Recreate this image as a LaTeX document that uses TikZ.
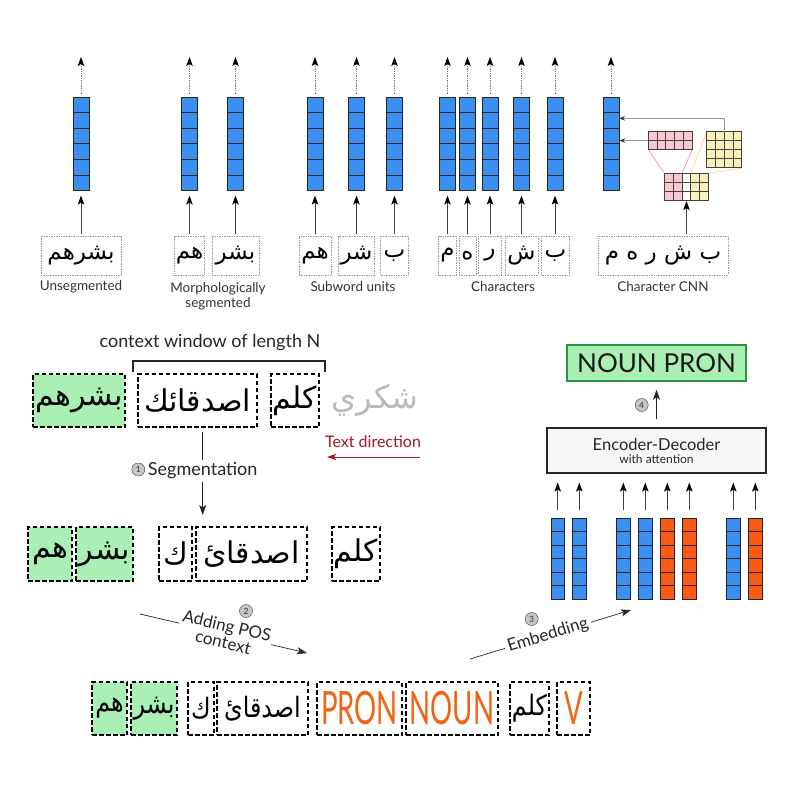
\documentclass[tikz,border=0pt]{standalone}
\usepackage{fontspec}
\setmainfont{Lato}
\newfontfamily\arabicfont[Script=Arabic]{DejaVu Sans}
\newfontfamily\arabiccond[Script=Arabic,FakeStretch=0.85]{DejaVu Sans}
\newfontfamily\condfont[FakeStretch=0.6]{Lato}
\TeXXeTstate=1
\usetikzlibrary{arrows.meta,calc}
\newcommand\arb[1]{{\arabicfont\beginR #1\endR}}
\newcommand\arbc[1]{{\arabiccond\beginR #1\endR}}
\newcommand\fsz[1]{\fontsize{#1}{#1}\selectfont}
\definecolor{vblue}{RGB}{59,143,240}
\definecolor{vorange}{RGB}{250,90,20}
\definecolor{torange}{RGB}{240,100,20}
\definecolor{lgreen}{RGB}{170,240,180}
\definecolor{dgreen}{RGB}{40,150,60}
\definecolor{dred}{RGB}{160,25,40}
\definecolor{pinkc}{RGB}{248,200,208}
\definecolor{yellc}{RGB}{250,240,185}
\definecolor{pinkl}{RGB}{232,140,150}
\definecolor{yelll}{RGB}{235,220,120}
\newcommand\mkvec[6]{%
  \node[vecbox, fill=#6, minimum width=#4pt, minimum height=#5pt, anchor=north] (#1) at (#2,#3) {};
  \foreach \k in {1,...,5}
    \draw[vecline] ($(#1.north west)!\k/6!(#1.south west)$) -- ($(#1.north east)!\k/6!(#1.south east)$);
}
\newcommand\cells[7]{%
  \foreach \i in {1,...,#3} \foreach \j in {1,...,#4}
    \draw[cellline, fill=#7] ({#1+(\i-1)*#5},{#2+(\j-1)*#6}) rectangle ++(#5,#6);
}
\tikzset{
  vecbox/.style={draw=black!85, line width=0.6pt, inner sep=0pt},
  vecline/.style={draw=black!85, line width=0.6pt},
  cellline/.style={draw=black!75, line width=0.5pt},
  tip/.style={-{Stealth[length=9pt,width=6.5pt,inset=2pt,color=black]}},
  toparrow/.style={tip, densely dotted, draw=gray, line width=0.7pt, shorten <=3pt},
  uparrow/.style={tip, draw=gray!50!black, line width=0.7pt},
  dotbox/.style={draw=gray!80, densely dotted, line width=0.7pt, inner sep=0pt, minimum height=39pt},
  dashbox/.style={draw=black, dash pattern=on 4.5pt off 2.5pt, line width=1.3pt, inner sep=0pt},
  toplabel/.style={font=\fsz{13.5}, text=black!80, align=center},
  circnum/.style={circle, draw=gray!50!black, fill=gray!45, inner sep=0pt, minimum size=13pt, font=\fsz{8.5}, text=black!80},
  grayarrow/.style={-{Stealth[length=6pt,width=4.5pt,color=black!80]}, draw=gray!80, line width=0.9pt},
  bigtip/.style={-{Stealth[length=10pt,width=7pt,inset=2.5pt]}},
}
\begin{document}
\begin{tikzpicture}[x=1pt,y=-1pt]
\useasboundingbox[fill=white] (0,0) rectangle (800,802);

% ---------------- top section: vectors ----------------
\foreach \n/\x in {uA/81, mA/189.5, mB/235.5, sA/315, sB/356.5, sC/394.5, cA/447.5, cB/467.5, cC/490, cD/521.5, cE/555, nA/611}{
  \mkvec{\n}{\x}{97}{16}{93}{vblue}
}
% boxes
\node[dotbox, minimum width=80pt] (bU) at (81,255.5) {\fsz{23}\arb{بشرهم}};
\node[dotbox, minimum width=30pt] (bMA) at (189.5,255.5) {\fsz{23}\arb{هم}};
\node[dotbox, minimum width=47pt] (bMB) at (235.5,255.5) {\fsz{23}\arb{بشر}};
\node[dotbox, minimum width=32pt] (bSA) at (315,255.5) {\fsz{23}\arb{هم}};
\node[dotbox, minimum width=36pt] (bSB) at (356.5,255.5) {\fsz{23}\arb{شر}};
\node[dotbox, minimum width=28pt] (bSC) at (394.5,255.5) {\fsz{23}\arb{ب}};
\node[dotbox, minimum width=18pt] (bCA) at (447.5,255.5) {\fsz{23}\arb{م}};
\node[dotbox, minimum width=17pt] (bCB) at (467.5,255.5) {\fsz{23}\arb{ه}};
\node[dotbox, minimum width=23pt] (bCC) at (490,255.5) {\fsz{23}\arb{ر}};
\node[dotbox, minimum width=33pt] (bCD) at (521.5,255.5) {\fsz{23}\arb{ش}};
\node[dotbox, minimum width=28pt] (bCE) at (555.5,255.5) {\fsz{23}\arb{ب}};
\node[dotbox, minimum width=130pt] (bN) at (663,255.5) {\fsz{23}\arb{ب ش ر ه م}};

\foreach \v/\b in {uA/bU, mA/bMA, mB/bMB, sA/bSA, sB/bSB, sC/bSC, cA/bCA, cB/bCB, cC/bCC, cD/bCD, cE/bCE}{
  \draw[uparrow, shorten <=2pt, shorten >=5pt] (\b.north -| \v.south) -- (\v.south);
}
\foreach \v in {uA, mA, mB, sA, sB, sC, cA, cB, cC, cD, cE, nA}{
  \draw[toparrow] (\v.north) -- ++(0,-40);
}

% labels
\node[toplabel] (lU) at (81,287) {Unsegmented};
\node[toplabel, anchor=north] (lM) at (218,279.5) {Morphologically\\[1pt]segmented};
\node[toplabel] (lS) at (353,287) {Subword units};
\node[toplabel] (lC) at (503,287) {Characters};
\node[toplabel] (lN) at (663,287) {Character CNN};

% character CNN
\node[inner sep=0pt, minimum width=44pt, minimum height=27.4pt, anchor=north west] (mat) at (664.3,173.3) {};
\node[inner sep=0pt, minimum width=43.5pt, minimum height=17.3pt, anchor=north west] (pinkf) at (648.3,131.7) {};
\node[inner sep=0pt, minimum width=35pt, minimum height=36pt, anchor=north west] (yelf) at (706.7,131.7) {};
\draw[pinkl, line width=0.6pt] (pinkf.south west) -- (mat.north west);
\draw[pinkl, line width=0.6pt] (pinkf.south east) -- ($(mat.north west)+(17.6,0)$);
\draw[yelll, line width=0.6pt] (yelf.north west) -- ($(mat.north west)+(26.4,0)$);
\draw[yelll, line width=0.6pt] (yelf.south east) -- (mat.north east);
\cells{648.3}{131.7}{5}{2}{8.7}{8.65}{pinkc}
\cells{706.7}{131.7}{4}{4}{8.75}{9}{yellc}
\cells{664.3}{173.3}{2}{3}{8.8}{9.13}{pinkc}
\cells{681.9}{173.3}{1}{3}{8.8}{9.13}{white}
\cells{690.7}{173.3}{2}{3}{8.8}{9.13}{yellc}
\draw[uparrow, shorten <=2pt] (bN.north -| mat.south) -- (mat.south);
\draw[grayarrow] (pinkf.west) -- (pinkf.west -| nA.east);
\coordinate (ytap) at (619,118.3);
\draw[grayarrow] (yelf.north) |- (ytap);

% ---------------- middle left ----------------
\node[font=\fsz{18}, text=black!85] (ctx) at (210,343) {context window of length N};
\draw[line width=1.8pt, black!85] (132.7,371.7) -- (132.7,360.7) -- (325,360.7) -- (325,371.7);

\node[dashbox, fill=lgreen, minimum width=92pt, minimum height=53pt] (r1a) at (79,400.5) {\fsz{30}\arb{بشرهم}};
\node[dashbox, minimum width=119pt, minimum height=53pt] (r1b) at (197.5,400.5) {\fsz{30}\arb{اصدقائك}};
\node[dashbox, minimum width=48pt, minimum height=53pt] (r1c) at (295,400.5) {\fsz{30}\arb{كلم}};
\node[text=gray!55, inner sep=0pt] (shk) at (375,400) {\fsz{32}\arb{شكري}};

\node[font=\fsz{16}, text=dred] (tdir) at (373,442) {Text direction};
\coordinate (tdA) at (420,457);
\coordinate (tdB) at (327,457);
\draw[-{Stealth[length=9pt,width=6pt,inset=2pt]}, dred, line width=1pt] (tdA) -- (tdB);

\coordinate (segA) at (202.7,432);
\coordinate (segB) at (202.7,515);
\draw[bigtip, line width=0.7pt, black!85] (segA) -- node[pos=0.47, fill=white, inner sep=3pt, font=\fsz{18}, text=black!85] (segl) {Segmentation} (segB);
\node[circnum] (n1) at (138.3,469.5) {1};

\node[dashbox, fill=lgreen, minimum width=44pt, minimum height=54pt] (r2a) at (50,554) {\fsz{30}\arb{هم}};
\node[dashbox, fill=lgreen, minimum width=57pt, minimum height=54pt] (r2b) at (104.5,554) {\fsz{30}\arb{بشر}};
\node[dashbox, minimum width=33pt, minimum height=54pt] (r2c) at (175.5,554) {\fsz{30}\arb{ك}};
\node[dashbox, minimum width=111pt, minimum height=54pt] (r2d) at (251.5,554) {\fsz{30}\arb{اصدقائ}};
\node[dashbox, minimum width=48pt, minimum height=54pt] (r2e) at (356,554) {\fsz{30}\arb{كلم}};

\coordinate (posA) at (140,614);
\coordinate (posB) at (307,653);
\draw[bigtip, line width=0.7pt, black!85] (posA) -- node[pos=0.51, sloped, fill=white, inner sep=2pt, align=center, font=\fsz{17}, text=black!85] (posl) {Adding POS\\[0pt]context} (posB);
\node[circnum] (n2) at (246,611) {2};

\coordinate (embA) at (470,659);
\coordinate (embB) at (631,610);
\draw[bigtip, line width=0.7pt, black!85] (embA) -- node[pos=0.484, sloped, fill=white, inner sep=3pt, font=\fsz{17}, text=black!85] (embl) {Embedding} (embB);
\node[circnum] (n3) at (531.7,619) {3};

% ---------------- right ----------------
\node[draw=dgreen, line width=1.5pt, fill=lgreen, minimum width=179pt, minimum height=36pt, inner sep=0pt, font=\fsz{26}, text=black!90] (np) at (656.5,363) {NOUN PRON};
\node[draw=black!85, line width=1.2pt, fill=black!3, minimum width=219pt, minimum height=45pt, inner sep=0pt, align=center, text=black!85] (ed) at (656.5,450.5) {{\fsz{16.5}Encoder-Decoder}\\[1pt]{\fsz{12}with attention}};
\draw[bigtip, line width=0.7pt, black!85, shorten <=8pt, shorten >=8pt] (ed.north -| np.south) -- (np.south);
\node[circnum] (n4) at (641.7,405) {4};

\foreach \n/\x/\c in {e1/557.7/vblue, e2/579.3/vblue, e3/623.3/vblue, e4/645.3/vblue, e5/667.3/vorange, e6/689.3/vorange, e7/733.3/vblue, e8/755.3/vorange}{
  \mkvec{\n}{\x}{518}{13.3}{80.6}{\c}
  \draw[uparrow, shorten <=8pt, shorten >=9pt] (\n.north) -- (ed.south -| \n.north);
}

% ---------------- bottom row ----------------
\node[dashbox, fill=lgreen, minimum width=35pt, minimum height=53pt] (q1) at (109.5,708.5) {\fsz{28}\arbc{هم}};
\node[dashbox, fill=lgreen, minimum width=46pt, minimum height=53pt] (q2) at (154,708.5) {\fsz{28}\arbc{بشر}};
\node[dashbox, minimum width=26pt, minimum height=53pt] (q3) at (201,708.5) {\fsz{28}\arbc{ك}};
\node[dashbox, minimum width=91pt, minimum height=53pt] (q4) at (262.5,708.5) {\fsz{28}\arbc{اصدقائ}};
\node[dashbox, minimum width=85pt, minimum height=53pt, text=torange] (q5) at (359.5,708.5) {\condfont\fsz{46}PRON};
\node[dashbox, minimum width=92pt, minimum height=53pt, text=torange] (q6) at (452,708.5) {\condfont\fsz{46}NOUN};
\node[dashbox, minimum width=39pt, minimum height=53pt] (q7) at (529.5,708.5) {\fsz{28}\arbc{كلم}};
\node[dashbox, minimum width=33pt, minimum height=53pt, text=torange] (q8) at (573.5,708.5) {\condfont\fsz{46}V};
\end{tikzpicture}
\end{document}
